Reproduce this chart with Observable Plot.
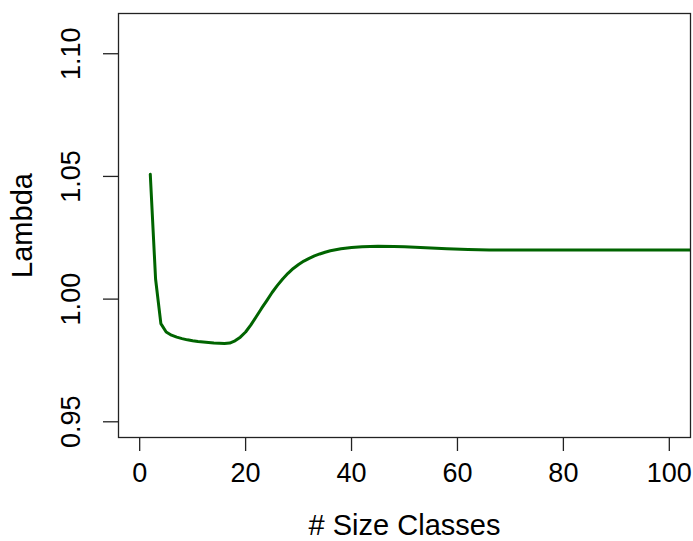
<!DOCTYPE html>
<html>
<head>
<meta charset="utf-8">
<script src="https://cdn.jsdelivr.net/npm/d3@7"></script>
<script src="https://cdn.jsdelivr.net/npm/@observablehq/plot@0.6"></script>
<style>
  html, body { margin: 0; padding: 0; background: #fff; }
</style>
</head>
<body>
<div id="chart"></div>
<script>
// Data
const sizeClasses = [2,3,4,5,6,7,8,9,10,11,12,13,14,15,16,17,18,19,20,21,22,23,24,25,26,27,28,29,30,31,32,33,34,35,36,37,38,40,42,45,48,50,52,55,58,62,66,70,80,90,100,110];
const lambdaValues = [1.0509,1.0082,0.9900,0.9866,0.9853,0.9845,0.9839,0.9834,0.9830,0.9827,0.9825,0.9823,0.9821,0.9820,0.9819,0.9821,0.9830,0.9845,0.9866,0.9895,0.9928,0.9962,0.9994,1.0027,1.0056,1.0082,1.0105,1.0125,1.0141,1.0155,1.0166,1.0176,1.0184,1.0191,1.0197,1.0201,1.0205,1.0210,1.0213,1.0215,1.0214,1.0213,1.0211,1.0208,1.0205,1.0202,1.0200,1.0200,1.0200,1.0200,1.0200,1.0200];
const xTicks = [0, 20, 40, 60, 80, 100];
const yTicks = [0.95, 1.00, 1.05, 1.10];
const yTickLabels = ["0.95", "1.00", "1.05", "1.10"];
const xTitle = "# Size Classes";
const yTitle = "Lambda";

const data = sizeClasses.map((x, i) => ({x, y: lambdaValues[i]}));
const yLabelData = yTicks.map((v, i) => ({v, t: yTickLabels[i]}));

const chart = Plot.plot({
  width: 693,
  height: 541,
  marginLeft: 118,
  marginRight: 3,
  marginTop: 13,
  marginBottom: 104,
  style: {fontFamily: "'Liberation Sans', Arial, sans-serif", color: "#000", background: "#fff"},
  x: {domain: [-4, 104], axis: null},
  y: {domain: [0.9436, 1.1164], axis: null},
  marks: [
    Plot.axisX({ticks: xTicks, tickSize: 14, tickPadding: 11, fontSize: 27, tickFormat: d => String(d), stroke: "#222", strokeWidth: 1.3, label: null}),
    Plot.axisY({ticks: yTicks, tickSize: 15, tickFormat: () => "", stroke: "#222", strokeWidth: 1.3, label: null}),
    Plot.text(yLabelData, {y: "v", text: "t", frameAnchor: "left", rotate: -90, dx: -47, textAnchor: "middle", lineAnchor: "middle", fontSize: 27, fill: "#000"}),
    Plot.text([xTitle], {text: d => d, frameAnchor: "bottom", dy: 88, lineAnchor: "middle", textAnchor: "middle", fontSize: 29, fill: "#000"}),
    Plot.text([yTitle], {text: d => d, frameAnchor: "left", rotate: -90, dx: -96, lineAnchor: "middle", textAnchor: "middle", fontSize: 29, fill: "#000"}),
    Plot.line(data, {x: "x", y: "y", stroke: "#006400", strokeWidth: 3, curve: "linear", clip: true, strokeLinejoin: "round"}),
    Plot.frame({stroke: "#222", strokeWidth: 1.3})
  ]
});
document.getElementById("chart").appendChild(chart);
</script>
</body>
</html>
